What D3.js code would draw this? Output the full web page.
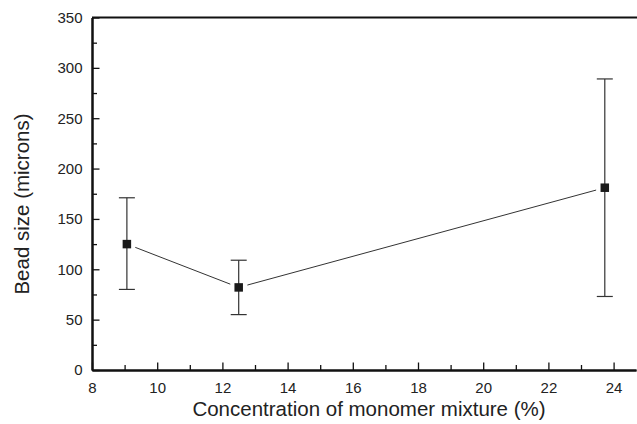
<!DOCTYPE html>
<html>
<head>
<meta charset="utf-8">
<script src="https://cdn.jsdelivr.net/npm/d3@7"></script>
<style>
  body { margin: 0; background: #fff; }
  text { font-family: "Liberation Sans", Arial, sans-serif; fill: #222; }
</style>
</head>
<body>
<div id="chart"></div>
<script>
// concentration (%) vs bead size (microns), error bars low/high
const concentration = [9.07, 12.5, 23.73];
const beadSize = [125, 82, 181];
const errLow = [80, 55, 73];
const errHigh = [171, 109, 289];
const xTicks = [8, 10, 12, 14, 16, 18, 20, 22, 24];
const yTicks = [0, 50, 100, 150, 200, 250, 300, 350];

const width = 637, height = 424;
const margin = {left: 92, right: 1, top: 17.5, bottom: 54};

const svg = d3.select("#chart").append("svg").attr("width", width).attr("height", height);

let x = d3.scaleLinear().domain([8, 8 + (width - margin.right - margin.left) / 32.6])
    .range([margin.left, width - margin.right]);
let y = d3.scaleLinear().domain([0, 350]).range([height - margin.bottom, margin.top]);

// axes: ticks point inward
let xAxis = svg.append("g").attr("transform", "translate(0," + y(0) + ")")
    .call(d3.axisBottom(x).tickValues(xTicks).tickSizeInner(-7.5).tickSizeOuter(0).tickPadding(10));
let xMinor = svg.append("g").attr("transform", "translate(0," + y(0) + ")")
    .call(d3.axisBottom(x).tickValues(d3.range(9, 25, 2)).tickSizeInner(-5).tickSizeOuter(0).tickFormat(""));
let yAxis = svg.append("g").attr("transform", "translate(" + x(8) + ",0)")
    .call(d3.axisLeft(y).tickValues(yTicks).tickSizeInner(-7.5).tickSizeOuter(0).tickPadding(9.5));
let yMinor = svg.append("g").attr("transform", "translate(" + x(8) + ",0)")
    .call(d3.axisLeft(y).tickValues(d3.range(25, 350, 50)).tickSizeInner(-5).tickSizeOuter(0).tickFormat(""));

for (let g of [xAxis, yAxis, xMinor, yMinor]) {
    g.selectAll(".domain").attr("stroke", "#111").attr("stroke-width", 2);
    g.selectAll(".tick line").attr("stroke", "#111").attr("stroke-width", 1.3);
    g.selectAll(".tick text").attr("font-size", 15).attr("fill", "#222");
}
xAxis.selectAll(".tick text").attr("dy", "0.85em");

// top frame line
svg.append("line").attr("x1", x(8)).attr("x2", width).attr("y1", y(350)).attr("y2", y(350))
    .attr("stroke", "#111").attr("stroke-width", 2);

// connecting line, stopping short of the markers
const gap = 9;
for (let i = 0; i < concentration.length - 1; i++) {
    let x1 = x(concentration[i]), y1 = y(beadSize[i]);
    let x2 = x(concentration[i + 1]), y2 = y(beadSize[i + 1]);
    let len = Math.hypot(x2 - x1, y2 - y1);
    let ux = (x2 - x1) / len, uy = (y2 - y1) / len;
    svg.append("line").attr("x1", x1 + ux * gap).attr("y1", y1 + uy * gap)
        .attr("x2", x2 - ux * gap).attr("y2", y2 - uy * gap)
        .attr("stroke", "#333").attr("stroke-width", 1);
}

// error bars
const cap = 8;
let eb = svg.append("g").attr("stroke", "#333").attr("stroke-width", 1.2);
concentration.forEach((c, i) => {
    let cx = x(c);
    eb.append("line").attr("x1", cx).attr("x2", cx).attr("y1", y(errLow[i])).attr("y2", y(errHigh[i]));
    eb.append("line").attr("x1", cx - cap).attr("x2", cx + cap).attr("y1", y(errLow[i])).attr("y2", y(errLow[i]));
    eb.append("line").attr("x1", cx - cap).attr("x2", cx + cap).attr("y1", y(errHigh[i])).attr("y2", y(errHigh[i]));
});

// square markers
const sq = 8.5;
svg.selectAll("rect.pt").data(concentration).enter().append("rect").attr("class", "pt")
    .attr("x", (d) => x(d) - sq / 2).attr("y", (d, i) => y(beadSize[i]) - sq / 2)
    .attr("width", sq).attr("height", sq).attr("fill", "#1a1a1a");

// axis titles
svg.append("text").attr("x", 369).attr("y", 416).attr("text-anchor", "middle")
    .attr("font-size", 20.5).text("Concentration of monomer mixture (%)");
svg.append("text").attr("transform", "translate(29,204) rotate(-90)").attr("text-anchor", "middle")
    .attr("font-size", 20.5).text("Bead size (microns)");
</script>
</body>
</html>
